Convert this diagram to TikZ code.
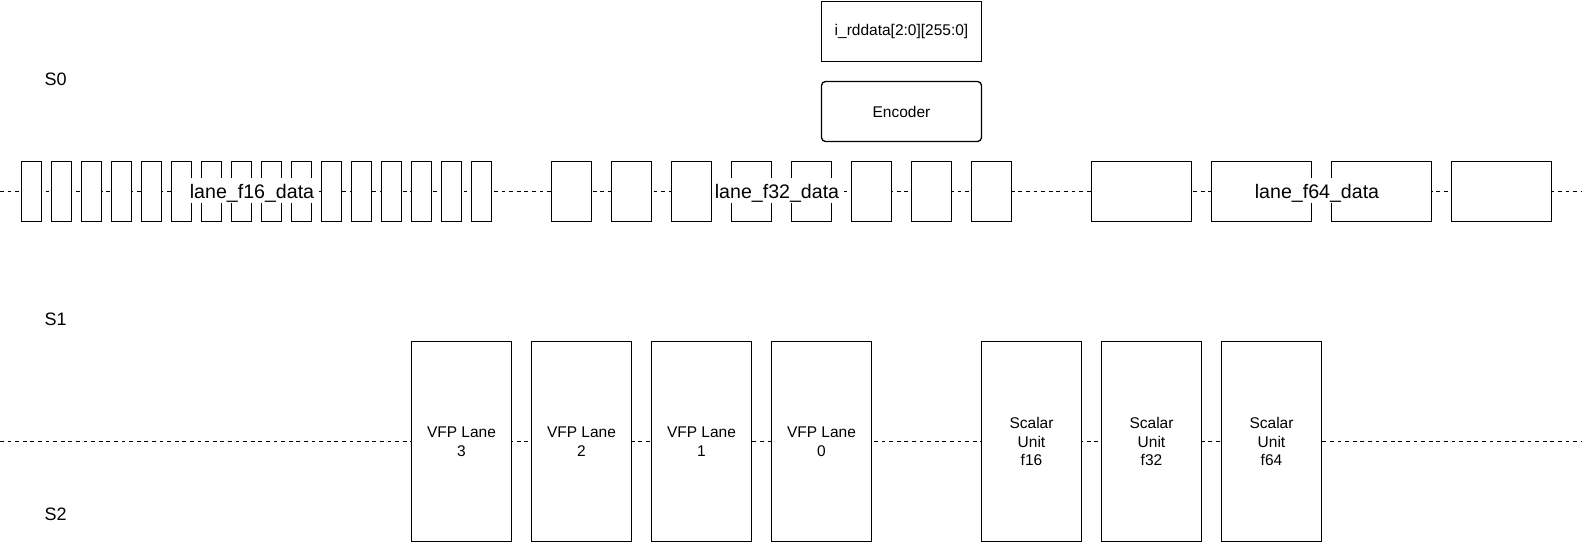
\documentclass[tikz,border=0pt]{standalone}
\usepackage{fontspec}
\setmainfont{Liberation Sans}
\usetikzlibrary{positioning}
\newcommand{\unitfont}{\fontsize{15.5}{18.5}\selectfont}
\newcommand{\lanefont}{\fontsize{19.6}{22}\selectfont}
\newcommand{\stagefont}{\fontsize{18}{20}\selectfont}
\newcommand{\dataslot}[3]{\node[slotbox, minimum width=#3] (#1) at (#2,191.5) {};}
\newcommand{\fpunit}[3]{\node[unitbox] (#1) at (#2,441.5) {#3};}

\begin{document}
\begin{tikzpicture}[x=1pt, y=-1pt,
    slotbox/.style={draw, fill=white, line width=1.3pt, minimum height=60pt, inner sep=0pt, outer sep=0pt},
    unitbox/.style={draw, fill=white, line width=1.3pt, minimum width=100pt, minimum height=200pt, inner sep=0pt, outer sep=0pt, align=center, font=\unitfont},
    topbox/.style={draw, fill=white, line width=1.3pt, minimum width=160pt, minimum height=60pt, inner sep=0pt, outer sep=0pt, font=\unitfont},
    lanelabel/.style={fill=white, anchor=base, inner xsep=1pt, inner ysep=0pt, text height=20.5pt, text depth=5pt, font=\lanefont},
    stagelabel/.style={anchor=base west, inner sep=0pt, font=\stagefont},
    stageline/.style={line width=1.3pt, dash pattern=on 3.8pt off 3.8pt}]
    \useasboundingbox (0,0) rectangle (1582,542);

    % stage labels
    \node[stagelabel] (s0) at (44.5,85) {S0};
    \node[stagelabel] (s1) at (44.5,325) {S1};
    \node[stagelabel] (s2) at (44.5,520) {S2};

    % register lines
    \coordinate (regw0) at (0,191.5);
    \coordinate (rege0) at (1582,191.5);
    \coordinate (regw1) at (0,441.5);
    \coordinate (rege1) at (1582,441.5);
    \draw[stageline] (regw0) -- (rege0);
    \draw[stageline] (regw1) -- (rege1);

    % read data and encoder
    \node[topbox] (rddata) at (901.5,31.5) {i\_rddata[2:0][255:0]};
    \node[topbox, rounded corners=4pt, below=20pt of rddata] (encoder) {Encoder};

    % f16 lanes
    \dataslot{h0}{31.5}{20}
    \dataslot{h1}{61.5}{20}
    \dataslot{h2}{91.5}{20}
    \dataslot{h3}{121.5}{20}
    \dataslot{h4}{151.5}{20}
    \dataslot{h5}{181.5}{20}
    \dataslot{h6}{211.5}{20}
    \dataslot{h7}{241.5}{20}
    \dataslot{h8}{271.5}{20}
    \dataslot{h9}{301.5}{20}
    \dataslot{h10}{331.5}{20}
    \dataslot{h11}{361.5}{20}
    \dataslot{h12}{391.5}{20}
    \dataslot{h13}{421.5}{20}
    \dataslot{h14}{451.5}{20}
    \dataslot{h15}{481.5}{20}

    % f32 lanes
    \dataslot{w0}{571.5}{40}
    \dataslot{w1}{631.5}{40}
    \dataslot{w2}{691.5}{40}
    \dataslot{w3}{751.5}{40}
    \dataslot{w4}{811.5}{40}
    \dataslot{w5}{871.5}{40}
    \dataslot{w6}{931.5}{40}
    \dataslot{w7}{991.5}{40}

    % f64 lanes
    \dataslot{d0}{1141.5}{100}
    \dataslot{d1}{1261.5}{100}
    \dataslot{d2}{1381.5}{100}
    \dataslot{d3}{1501.5}{100}

    \node[lanelabel] (f16data) at (252,198.3) {lane\_f16\_data};
    \node[lanelabel] (f32data) at (777,198.3) {lane\_f32\_data};
    \node[lanelabel] (f64data) at (1317,198.3) {lane\_f64\_data};

    % execution units
    \fpunit{vfp3}{461.5}{VFP Lane\\3}
    \fpunit{vfp2}{581.5}{VFP Lane\\2}
    \fpunit{vfp1}{701.5}{VFP Lane\\1}
    \fpunit{vfp0}{821.5}{VFP Lane\\0}
    \fpunit{su16}{1031.5}{Scalar\\Unit\\f16}
    \fpunit{su32}{1151.5}{Scalar\\Unit\\f32}
    \fpunit{su64}{1271.5}{Scalar\\Unit\\f64}
\end{tikzpicture}
\end{document}
